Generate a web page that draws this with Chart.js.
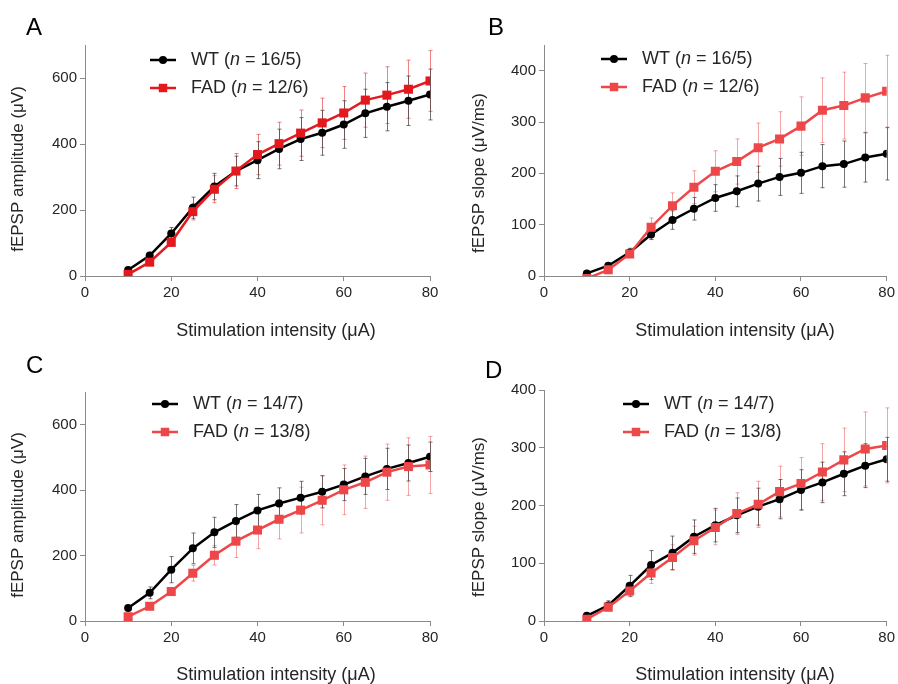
<!DOCTYPE html>
<html>
<head>
<meta charset="utf-8">
<script src="https://cdn.jsdelivr.net/npm/chart.js@4.4.1/dist/chart.umd.min.js"></script>
<style>
  body { margin: 0; background: #fff; }
  #wrap { position: relative; width: 898px; height: 684px; }
  canvas { position: absolute; }
</style>
</head>
<body>
<div id="wrap">
  <canvas id="chartA" width="449" height="342" style="left:0;top:0"></canvas>
  <canvas id="chartB" width="449" height="342" style="left:449px;top:0"></canvas>
  <canvas id="chartC" width="449" height="342" style="left:0;top:342px"></canvas>
  <canvas id="chartD" width="449" height="342" style="left:449px;top:342px"></canvas>
</div>
<script>
// ═══════════════ DATA ═══════════════

const intensity = [10, 15, 20, 25, 30, 35, 40, 45, 50, 55, 60, 65, 70, 75, 80];
const xTicks = [0, 20, 40, 60, 80];

// A: fEPSP amplitude, n = 16/5 vs 12/6
const wtAmpA     = [18, 62, 129, 207, 271, 318, 351, 385, 415, 434, 459, 493, 513, 531, 550];
const wtAmpAErr  = [6, 10, 18, 32, 40, 45, 56, 60, 65, 68, 72, 73, 73, 75, 77];
const fadAmpA    = [5, 42, 102, 195, 263, 318, 368, 401, 433, 464, 494, 533, 548, 566, 591];
const fadAmpAErr = [5, 8, 12, 25, 41, 53, 61, 65, 70, 75, 80, 82, 86, 88, 92];

// B: fEPSP slope, n = 16/5 vs 12/6
const wtSlopeB     = [5, 20, 46, 81, 109, 131, 152, 165, 180, 193, 201, 214, 218, 231, 238];
const wtSlopeBErr  = [3, 4, 8, 10, 18, 22, 26, 30, 34, 36, 40, 42, 45, 48, 51];
const fadSlopeB    = [-5, 12, 43, 95, 137, 173, 204, 223, 250, 267, 292, 323, 332, 347, 360];
const fadSlopeBErr = [4, 5, 6, 18, 25, 32, 40, 44, 48, 53, 57, 63, 65, 67, 70];

// C: fEPSP amplitude, n = 14/7 vs 13/8
const wtAmpC     = [40, 86, 157, 222, 271, 306, 338, 359, 377, 395, 417, 442, 465, 483, 502];
const wtAmpCErr  = [6, 18, 40, 47, 46, 50, 49, 48, 50, 49, 49, 55, 63, 55, 45];
const fadAmpC    = [13, 45, 90, 146, 201, 244, 278, 311, 339, 369, 401, 424, 455, 472, 477];
const fadAmpCErr = [5, 6, 12, 24, 30, 50, 57, 60, 70, 75, 76, 80, 86, 88, 87];

// D: fEPSP slope, n = 14/7 vs 13/8
const wtSlopeD     = [9, 27, 61, 97, 118, 146, 166, 183, 198, 211, 227, 240, 255, 269, 280];
const wtSlopeDErr  = [4, 8, 18, 25, 29, 29, 29, 30, 32, 34, 35, 35, 38, 38, 38];
const fadSlopeD    = [3, 24, 52, 83, 110, 139, 162, 186, 202, 224, 238, 258, 279, 298, 304];
const fadSlopeDErr = [3, 6, 10, 18, 22, 25, 30, 36, 40, 44, 45, 49, 55, 64, 65];

const FONT = '"Liberation Sans", Arial, Helvetica, sans-serif';
const AXIS_GREY = '#8a8a8a';
const TEXT = '#262626';
const RED_A = '#e3191e';
const RED = '#ee474a';

// ═══════════════ PLUGIN: ERROR BARS, LEGEND, TITLES ═══════════════

const panelDecor = {
    id: 'panelDecor',
    beforeDatasetsDraw(chart) {
        // SEM bars sit under the lines and markers
        const ctx = chart.ctx;
        const area = chart.chartArea;
        const y = chart.scales.y;
        ctx.save();
        ctx.beginPath();
        ctx.rect(area.left - 3, area.top - 3, area.right - area.left + 6, area.bottom - area.top + 3);
        ctx.clip();
        chart.data.datasets.forEach((ds, i) => {
            const meta = chart.getDatasetMeta(i);
            ctx.strokeStyle = ds.errColor;
            ctx.lineWidth = 1;
            meta.data.forEach((pt, j) => {
                const v = ds.data[j].y, e = ds.errors[j];
                const top = y.getPixelForValue(v + e);
                const bot = y.getPixelForValue(v - e);
                const x = Math.round(pt.x) + 0.5;
                ctx.beginPath();
                ctx.moveTo(x, top); ctx.lineTo(x, bot);
                ctx.moveTo(x - 2, top); ctx.lineTo(x + 2, top);
                ctx.moveTo(x - 2, bot); ctx.lineTo(x + 2, bot);
                ctx.stroke();
            });
        });
        ctx.restore();
    },
    afterDraw(chart, args, opts) {
        const ctx = chart.ctx;
        ctx.save();

        // panel letter
        ctx.fillStyle = '#000';
        ctx.font = '24px ' + FONT;
        ctx.textAlign = 'left';
        ctx.textBaseline = 'alphabetic';
        ctx.fillText(opts.letter, opts.letterX, opts.letterY);

        // legend, with an italic n
        opts.legend.forEach(item => {
            ctx.strokeStyle = item.color;
            ctx.lineWidth = 2.5;
            ctx.beginPath();
            ctx.moveTo(opts.legendX, item.y);
            ctx.lineTo(opts.legendX + 26, item.y);
            ctx.stroke();
            ctx.fillStyle = item.color;
            Chart.helpers.drawPoint(ctx, {
                pointStyle: item.style, radius: item.style === 'rect' ? 6 : 4, borderWidth: 0
            }, opts.legendX + 13, item.y);

            ctx.fillStyle = TEXT;
            ctx.textBaseline = 'middle';
            let tx = opts.legendX + 41;
            ctx.font = '18px ' + FONT;
            const a = item.label + ' (';
            ctx.fillText(a, tx, item.y); tx += ctx.measureText(a).width;
            ctx.font = 'italic 18px ' + FONT;
            ctx.fillText('n', tx, item.y); tx += ctx.measureText('n').width;
            ctx.font = '18px ' + FONT;
            ctx.fillText(' = ' + item.n + ')', tx, item.y);
        });

        // axis titles
        ctx.fillStyle = TEXT;
        ctx.textAlign = 'center';
        ctx.textBaseline = 'middle';
        ctx.font = '18px ' + FONT;
        ctx.fillText('Stimulation intensity (\u03bcA)', opts.xTitleX, opts.xTitleY);
        ctx.translate(opts.yTitleX, opts.yTitleY);
        ctx.rotate(-Math.PI / 2);
        ctx.font = '17px ' + FONT;
        ctx.fillText(opts.yTitle, 0, 0);
        ctx.restore();
    }
};

// ═══════════════ PANEL BUILDER ═══════════════

function toPoints(values) {
    return values.map((v, i) => ({ x: intensity[i], y: v }));
}

function makePanel(canvasId, cfg) {
    const el = document.getElementById(canvasId);
    if (!el) return;

    // FAD first so its squares sit on top of the WT line
    const datasets = [
        {
            label: 'FAD', data: toPoints(cfg.fad), errors: cfg.fadErr,
            borderColor: cfg.red, backgroundColor: cfg.red, errColor: cfg.redErr,
            pointStyle: 'rect', pointRadius: 6.4, pointBorderWidth: 0, borderWidth: 2.5, tension: 0
        },
        {
            label: 'WT', data: toPoints(cfg.wt), errors: cfg.wtErr,
            borderColor: '#000', backgroundColor: '#000', errColor: 'rgba(70,70,70,0.75)',
            pointStyle: 'circle', pointRadius: 4, pointBorderWidth: 0, borderWidth: 2.5, tension: 0
        }
    ];

    const axisBase = {
        border: { display: true, color: AXIS_GREY, width: 1 },
        grid: { display: true, drawOnChartArea: false, drawTicks: true, tickLength: 5, color: AXIS_GREY },
        ticks: { color: TEXT, font: { family: FONT, size: 15 }, padding: 3 }
    };

    new Chart(el.getContext('2d'), {
        type: 'line',
        data: { datasets },
        options: {
            responsive: false,
            animation: false,
            events: [],
            layout: { padding: { top: cfg.area.top, right: 449 - cfg.area.right, left: 0, bottom: 0 } },
            plugins: {
                legend: { display: false },
                tooltip: { enabled: false },
                panelDecor: cfg.decor
            },
            scales: {
                x: {
                    type: 'linear', min: 0, max: 80,
                    afterBuildTicks: s => { s.ticks = xTicks.map(v => ({ value: v })); },
                    afterFit: s => { s.height = 342 - cfg.area.bottom; },
                    ...axisBase
                },
                y: {
                    type: 'linear', min: 0, max: cfg.yMax,
                    afterBuildTicks: s => { s.ticks = cfg.yTicks.map(v => ({ value: v })); },
                    afterFit: s => { s.width = cfg.area.left; },
                    ...axisBase
                }
            }
        },
        plugins: [panelDecor]
    });
}

// ═══════════════ PANELS ═══════════════

makePanel('chartA', {
    wt: wtAmpA, wtErr: wtAmpAErr, fad: fadAmpA, fadErr: fadAmpAErr,
    red: RED_A, redErr: 'rgba(227,25,30,0.55)',
    yMax: 700, yTicks: [0, 200, 400, 600],
    area: { left: 85, right: 430, top: 45, bottom: 276 },
    decor: {
        letter: 'A', letterX: 26, letterY: 35,
        legendX: 150,
        legend: [
            { label: 'WT', n: '16/5', color: '#000', style: 'circle', y: 60 },
            { label: 'FAD', n: '12/6', color: RED_A, style: 'rect', y: 88 }
        ],
        xTitleX: 276, xTitleY: 331,
        yTitle: 'fEPSP amplitude (\u03bcV)', yTitleX: 18, yTitleY: 169
    }
});

makePanel('chartB', {
    wt: wtSlopeB, wtErr: wtSlopeBErr, fad: fadSlopeB, fadErr: fadSlopeBErr,
    red: RED, redErr: 'rgba(238,71,74,0.5)',
    yMax: 450, yTicks: [0, 100, 200, 300, 400],
    area: { left: 95, right: 439, top: 45, bottom: 276 },
    decor: {
        letter: 'B', letterX: 39, letterY: 35,
        legendX: 152,
        legend: [
            { label: 'WT', n: '16/5', color: '#000', style: 'circle', y: 59 },
            { label: 'FAD', n: '12/6', color: RED, style: 'rect', y: 87 }
        ],
        xTitleX: 286, xTitleY: 331,
        yTitle: 'fEPSP slope (\u03bcV/ms)', yTitleX: 30, yTitleY: 173
    }
});

makePanel('chartC', {
    wt: wtAmpC, wtErr: wtAmpCErr, fad: fadAmpC, fadErr: fadAmpCErr,
    red: RED, redErr: 'rgba(238,71,74,0.5)',
    yMax: 700, yTicks: [0, 200, 400, 600],
    area: { left: 85, right: 430, top: 50, bottom: 279 },
    decor: {
        letter: 'C', letterX: 26, letterY: 31,
        legendX: 152,
        legend: [
            { label: 'WT', n: '14/7', color: '#000', style: 'circle', y: 62 },
            { label: 'FAD', n: '13/8', color: RED, style: 'rect', y: 90 }
        ],
        xTitleX: 276, xTitleY: 333,
        yTitle: 'fEPSP amplitude (\u03bcV)', yTitleX: 18, yTitleY: 173
    }
});

makePanel('chartD', {
    wt: wtSlopeD, wtErr: wtSlopeDErr, fad: fadSlopeD, fadErr: fadSlopeDErr,
    red: RED, redErr: 'rgba(238,71,74,0.5)',
    yMax: 400, yTicks: [0, 100, 200, 300, 400],
    area: { left: 95, right: 439, top: 48, bottom: 279 },
    decor: {
        letter: 'D', letterX: 36, letterY: 36,
        legendX: 174,
        legend: [
            { label: 'WT', n: '14/7', color: '#000', style: 'circle', y: 62 },
            { label: 'FAD', n: '13/8', color: RED, style: 'rect', y: 90 }
        ],
        xTitleX: 286, xTitleY: 333,
        yTitle: 'fEPSP slope (\u03bcV/ms)', yTitleX: 30, yTitleY: 175
    }
});
</script>
</body>
</html>
